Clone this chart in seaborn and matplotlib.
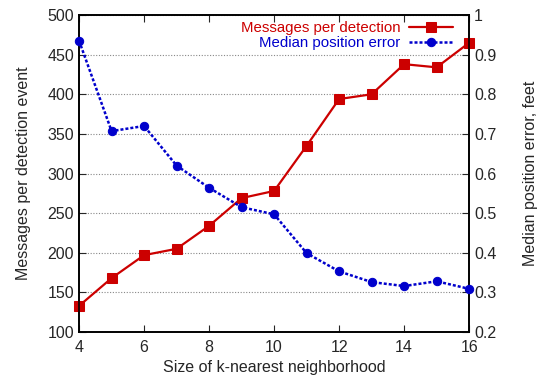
import pandas as pd
import seaborn as sns
import matplotlib.pyplot as plt

sns.set_style('ticks')
plt.rcParams['font.family'] = ['Liberation Sans', 'DejaVu Sans']

k_size = [4, 5, 6, 7, 8, 9, 10, 11, 12, 13, 14, 15, 16]
messages = [133, 168, 197, 205, 234, 269, 278, 335, 394, 400, 438, 434, 465]
median_err = [0.935, 0.707, 0.72, 0.62, 0.564, 0.515, 0.497, 0.399, 0.353, 0.326, 0.316, 0.328, 0.309]

df = pd.DataFrame({'k': k_size, 'messages': messages, 'error': median_err})

red = '#cc0000'
blue = '#0000cc'

fig = plt.figure(figsize=(5.38, 3.76), dpi=100)
ax = fig.add_axes([0.147, 0.117, 0.725, 0.843])
ax2 = ax.twinx()

sns.lineplot(data=df, x='k', y='messages', ax=ax, color=red, lw=1.6,
             marker='s', markersize=7, markeredgecolor=red, label='Messages per detection',
             legend=False, clip_on=False, zorder=5)
sns.lineplot(data=df, x='k', y='error', ax=ax2, color=blue, lw=1.8, linestyle=(0, (1.2, 0.8)),
             marker='o', markersize=6, markeredgecolor=blue, label='Median position error',
             legend=False, clip_on=False, zorder=5)

ax.set_xlim(4, 16)
ax.set_ylim(100, 500)
ax2.set_ylim(0.2, 1.0)
ax.set_xticks(range(4, 17, 2))
ax.set_yticks(range(100, 501, 50))
ax2.set_yticks([0.2, 0.3, 0.4, 0.5, 0.6, 0.7, 0.8, 0.9, 1.0])
ax2.set_yticklabels(['0.2', '0.3', '0.4', '0.5', '0.6', '0.7', '0.8', '0.9', '1'])

ax.yaxis.grid(True, color='#888888', linestyle=(0, (1, 1.5)), lw=0.8)
ax.set_axisbelow(True)

fs = 11.5
ax.tick_params(axis='x', direction='in', top=True, length=5, labelsize=fs, pad=6)
ax.tick_params(axis='y', direction='in', length=5, labelsize=fs, right=False)
ax2.tick_params(axis='y', direction='in', length=5, labelsize=fs)

for a in (ax, ax2):
    for s in a.spines.values():
        s.set_linewidth(1.2)
        s.set_color('black')

ax.set_xlabel('Size of k-nearest neighborhood', fontsize=fs, labelpad=3)
ax.set_ylabel('Messages per detection event', fontsize=fs, labelpad=12)
ax2.set_ylabel('Median position error, feet', fontsize=fs, labelpad=19)

h1, l1 = ax.get_legend_handles_labels()
h2, l2 = ax2.get_legend_handles_labels()
leg = ax2.legend(h1 + h2, l1 + l2, loc='upper right', bbox_to_anchor=(0.97, 0.995),
                 frameon=False, markerfirst=False,
                 fontsize=10.8, handlelength=2.9, borderaxespad=0.0, labelspacing=0.05,
                 handletextpad=0.6, borderpad=0.3)
for txt, c in zip(leg.get_texts(), [red, blue]):
    txt.set_color(c)

plt.savefig('out.png', dpi=100)
